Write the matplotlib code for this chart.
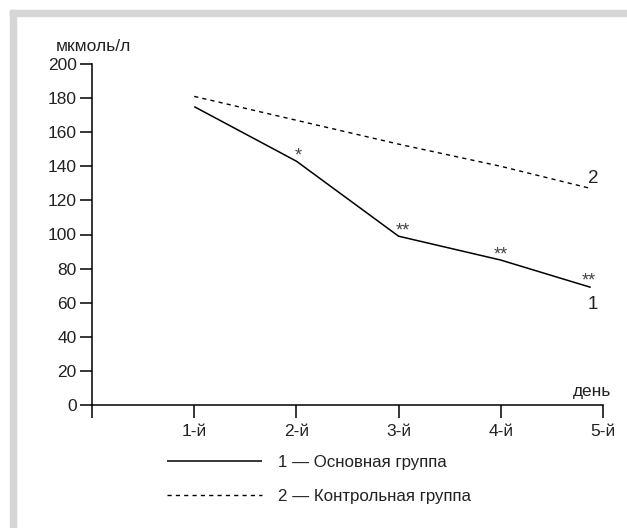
import matplotlib.pyplot as plt
from matplotlib.patches import Rectangle

plt.rcParams['font.family'] = ['Liberation Sans', 'DejaVu Sans']

# --- данные ---
days = [1, 2, 3, 4, 4.88]
day_labels = ["", "1-й", "2-й", "3-й", "4-й", "5-й"]
main_group = [175, 143, 99, 85, 69]        # 1 — Основная группа
control_group = [181, 167, 153, 140, 127]  # 2 — Контрольная группа
stars = ["*", "**", "**", "**"]
star_x = [2.02, 3.04, 4.0, 4.86]
star_y = [146, 102, 88, 73]

TXT = "#222222"
FS = 12.5

fig = plt.figure(figsize=(6.27, 5.28), dpi=100)
fig.patch.set_facecolor("white")

# серая рамка сверху и слева
fig.patches.append(Rectangle((10 / 627, 1 - 16 / 528), 1, 6 / 528,
                             transform=fig.transFigure, color="#d6d6d6", zorder=0))
fig.patches.append(Rectangle((10 / 627, 0), 6 / 627, 1 - 10 / 528,
                             transform=fig.transFigure, color="#d6d6d6", zorder=0))

ax = fig.add_axes([92 / 627, 1 - 405 / 528, 511 / 627, 341 / 528])
ax.set_facecolor("none")

l1, = ax.plot(days, main_group, color="black", lw=1.1, solid_capstyle="butt")
l2, = ax.plot(days, control_group, color="black", lw=1.0, dashes=(3, 3))

for s, x, y in zip(stars, star_x, star_y):
    ax.text(x, y, s, fontsize=13, color="#444444", ha="center", va="center")

ax.text(4.9, 59, "1", fontsize=13.5, color=TXT, ha="center", va="center")
ax.text(4.9, 133, "2", fontsize=13.5, color=TXT, ha="center", va="center")
ax.text(5.08, 8, "день", fontsize=FS, color=TXT, ha="right", va="center", clip_on=False)
ax.text(-0.35, 210, "мкмоль/л", fontsize=FS, color=TXT, ha="left", va="center", clip_on=False)

ax.set_xlim(0, 5)
ax.set_ylim(0, 200)
ax.set_xticks(range(6))
ax.set_xticklabels(day_labels)
ax.set_yticks(range(0, 201, 20))

for side in ["top", "right"]:
    ax.spines[side].set_visible(False)
for side in ["left", "bottom"]:
    ax.spines[side].set_linewidth(1.1)

ax.tick_params(axis="y", direction="out", length=9, width=1.1, pad=2,
               labelsize=FS, labelcolor=TXT)
ax.tick_params(axis="x", direction="out", length=9, width=1.1, pad=5,
               labelsize=FS, labelcolor=TXT)

fig.legend([l1, l2], ["1 — Основная группа", "2 — Контрольная группа"],
           loc="upper left", bbox_to_anchor=(167 / 627, 1 - 455 / 528),
           frameon=False, fontsize=12.2, handlelength=5.6, handletextpad=0.95,
           labelspacing=1.1, borderpad=0, borderaxespad=0, labelcolor=TXT)

fig.savefig("out.png", dpi=100)
